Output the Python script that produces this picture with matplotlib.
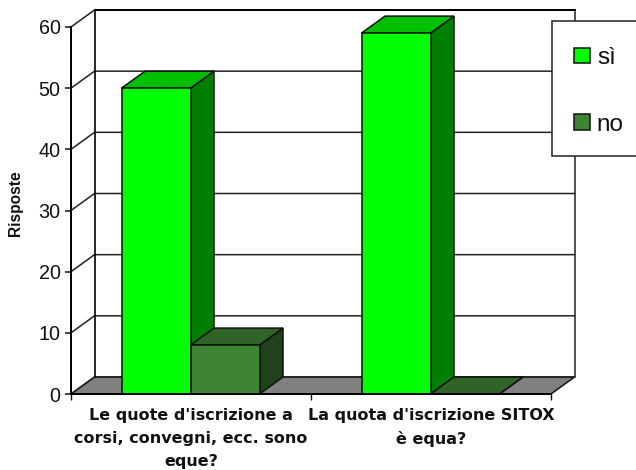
import numpy as np
import matplotlib
matplotlib.use('Agg')
from matplotlib import pyplot as plt
from matplotlib.patches import Polygon, Rectangle

plt.rcParams['font.family'] = ['Liberation Sans', 'DejaVu Sans']

categories = ["Le quote d'iscrizione a\ncorsi, convegni, ecc. sono\neque?",
              "La quota d'iscrizione SITOX\nè equa?"]
si_values = [50, 59]
no_values = [8, 0]
y_ticks = [0, 10, 20, 30, 40, 50, 60]

si_colors = ('#00ff00', '#00bf00', '#008000')
no_colors = ('#3d8533', '#2e6426', '#1f421a')

fig = plt.figure(figsize=(6.36, 4.70), dpi=100)
ax = fig.add_axes([71/636, (470-394)/470, 480/636, 367/470])
ax.set_xlim(0, 2)
ax.set_ylim(0, 60)

# depth of the fake 3d box, in data units
dx = 23.5 / 240
dy = 17 / (367 / 60)
bar_w = 69 / 240
bar_off = 50.5 / 240


def poly(pts, color, z=2, lw=1.1):
    ax.add_patch(Polygon(pts, closed=True, facecolor=color, edgecolor='#111111',
                         linewidth=lw, clip_on=False, zorder=z, joinstyle='miter'))


# floor
poly([(0, 0), (2, 0), (2+dx, dy), (dx, dy)], '#808080', z=1)

# back wall and grid
for v in y_ticks:
    ax.plot([0, dx, 2+dx], [v, v+dy, v+dy], color='#222222', lw=1.1,
            clip_on=False, zorder=1.5, solid_joinstyle='miter')
ax.plot([dx, dx], [dy, 60+dy], color='black', lw=1.2, clip_on=False, zorder=1.5)
ax.plot([2+dx, 2+dx], [dy, 60+dy], color='#222222', lw=1.1, clip_on=False, zorder=1.5)
ax.plot([dx, 2+dx], [60+dy, 60+dy], color='black', lw=1.4, clip_on=False, zorder=1.5)


def box(x, v, colors):
    poly([(x+bar_w, 0), (x+bar_w+dx, dy), (x+bar_w+dx, v+dy), (x+bar_w, v)], colors[2])
    poly([(x, v), (x+dx, v+dy), (x+bar_w+dx, v+dy), (x+bar_w, v)], colors[1])
    if v > 0:
        poly([(x, 0), (x+bar_w, 0), (x+bar_w, v), (x, v)], colors[0])


for i in range(len(categories)):
    box(i + bar_off, si_values[i], si_colors)
    box(i + bar_off + bar_w, no_values[i], no_colors)

for s in ['top', 'right']:
    ax.spines[s].set_visible(False)
for s in ['left', 'bottom']:
    ax.spines[s].set_linewidth(1.4)
    ax.spines[s].set_zorder(3)

ax.set_yticks(y_ticks)
ax.tick_params(axis='y', labelsize=14.2, length=4.5, width=1.1, pad=3, colors='#111111')
ax.set_xticks([0, 1, 2])
ax.tick_params(axis='x', length=4.5, width=1.0, labelbottom=False, color='#111111')

for i, c in enumerate(categories):
    ax.annotate(c, xy=(i+0.5, 0), xytext=(0, -10), xycoords='data', textcoords='offset points',
                ha='center', va='top', fontsize=11.5, fontweight='bold', linespacing=1.66,
                family='DejaVu Sans', color='#111111', annotation_clip=False)

fig.text(15/636, 1-203/470, 'Risposte', rotation=90, ha='center', va='center',
         fontsize=11.2, fontweight='bold', color='#111111')

# legend box runs off the right edge of the picture, so its frame is a separate patch
fig.add_artist(Rectangle((551.5/636, 1-156/470), 90/636, 135/470, transform=fig.transFigure,
                         facecolor='white', edgecolor='#222222', linewidth=1.1, zorder=5))
handles = [Rectangle((0, 0), 1, 1, facecolor=si_colors[0], edgecolor='#111111', linewidth=1.1),
           Rectangle((0, 0), 1, 1, facecolor=no_colors[0], edgecolor='#111111', linewidth=1.1)]
leg = fig.legend(handles, ['sì', 'no'], loc='upper left',
                 bbox_to_anchor=(550.5/636, 1-24/470), borderaxespad=0,
                 fontsize=17.5, handlelength=0.66, handleheight=0.6, handletextpad=0.3,
                 labelspacing=1.83, borderpad=0.95, frameon=False, labelcolor='#111111')
leg.set_zorder(6)

fig.savefig('out.png', dpi=100)
